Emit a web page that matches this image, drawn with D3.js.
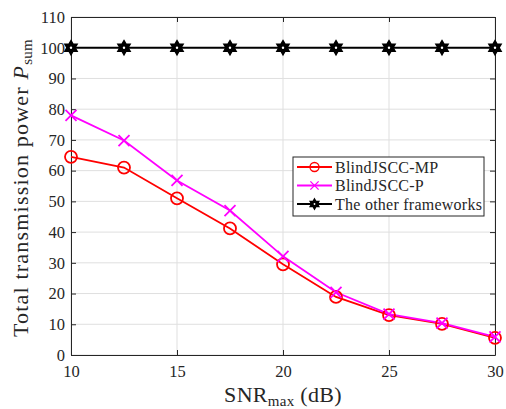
<!DOCTYPE html>
<html>
<head>
<meta charset="utf-8">
<script src="https://cdn.jsdelivr.net/npm/d3@7"></script>
<style>
  html, body { margin: 0; padding: 0; background: #fff; }
  svg { display: block; }
  text { font-family: "Liberation Serif", "DejaVu Serif", serif; fill: #262626; }
</style>
</head>
<body>
<svg id="chart" width="506" height="409"></svg>
<script>
// SNR values (dB) on the x axis
const snr = [10, 12.5, 15, 17.5, 20, 22.5, 25, 27.5, 30];
// Total transmission power for each framework
const blindMP = [64.5, 61.0, 51.0, 41.2, 29.5, 18.9, 13.0, 10.1, 5.6];
const blindP = [78.0, 69.8, 56.8, 47.0, 32.1, 20.4, 13.3, 10.4, 5.9];
const others = [100, 100, 100, 100, 100, 100, 100, 100, 100];
const seriesNames = ["BlindJSCC-MP", "BlindJSCC-P", "The other frameworks"];
const xTicks = [10, 15, 20, 25, 30];
const yTicks = [0, 10, 20, 30, 40, 50, 60, 70, 80, 90, 100, 110];

const svg = d3.select("#chart");
const m = { left: 71, right: 11, top: 17, bottom: 54 };
const W = 506, H = 409;
const x = d3.scaleLinear().domain([10, 30]).range([m.left, W - m.right]);
const y = d3.scaleLinear().domain([0, 110]).range([H - m.bottom, m.top]);
const axisColor = "#262626";

// grid
const grid = svg.append("g");
grid.selectAll(".gx").data(xTicks).join("line")
  .attr("x1", d => x(d)).attr("x2", d => x(d))
  .attr("y1", y(0)).attr("y2", y(110))
  .attr("stroke", "#dfdfdf").attr("stroke-width", 1);
grid.selectAll(".gy").data(yTicks).join("line")
  .attr("x1", x(10)).attr("x2", x(30))
  .attr("y1", d => y(d)).attr("y2", d => y(d))
  .attr("stroke", "#dfdfdf").attr("stroke-width", 1);

// axes
const xAxis = d3.axisBottom(x).tickValues(xTicks).tickSizeInner(-5).tickSizeOuter(0).tickPadding(10);
const yAxis = d3.axisLeft(y).tickValues(yTicks).tickSizeInner(-5).tickSizeOuter(0).tickPadding(6);
const gx = svg.append("g").attr("transform", `translate(0,${y(0)})`).call(xAxis);
const gy = svg.append("g").attr("transform", `translate(${x(10)},0)`).call(yAxis);
// mirrored ticks on top and right
const gxt = svg.append("g").attr("transform", `translate(0,${y(110)})`)
  .call(d3.axisTop(x).tickValues(xTicks).tickSizeInner(-5).tickSizeOuter(0).tickFormat(""));
const gyr = svg.append("g").attr("transform", `translate(${x(30)},0)`)
  .call(d3.axisRight(y).tickValues(yTicks).tickSizeInner(-5).tickSizeOuter(0).tickFormat(""));
[gx, gy, gxt, gyr].forEach(g => {
  g.select(".domain").attr("stroke", axisColor).attr("stroke-width", 1);
  g.selectAll(".tick line").attr("stroke", axisColor);
  g.selectAll(".tick text").style("font-family", '"Liberation Serif", serif')
    .style("font-size", "16.5px").attr("fill", axisColor);
});

// series
const line = d3.line().x((d, i) => x(snr[i])).y(d => y(d));
const series = [
  { name: seriesNames[0], values: blindMP, color: "#ff0000", marker: "circle" },
  { name: seriesNames[1], values: blindP, color: "#ff00ff", marker: "cross" },
  { name: seriesNames[2], values: others, color: "#000000", marker: "hexagram" }
];

function hexagramPath(r) {
  const pts = [];
  for (let k = 0; k < 12; k++) {
    const a = -Math.PI / 2 + k * Math.PI / 6;
    const rr = k % 2 === 0 ? r : r * 0.577;
    pts.push([rr * Math.cos(a), rr * Math.sin(a)]);
  }
  return "M" + pts.map(p => p.join(",")).join("L") + "Z";
}

function drawMarker(g, type, color) {
  if (type === "circle") {
    g.append("circle").attr("r", 6).attr("fill", "none").attr("stroke", color).attr("stroke-width", 1.8);
  } else if (type === "cross") {
    g.append("path").attr("d", "M-5.5,-5.5L5.5,5.5M-5.5,5.5L5.5,-5.5")
      .attr("stroke", color).attr("stroke-width", 1.8).attr("fill", "none");
  } else {
    g.append("path").attr("d", hexagramPath(7)).attr("fill", "#000").attr("stroke", color).attr("stroke-width", 1.5);
    g.append("circle").attr("r", 1.2).attr("fill", "#fff");
  }
}

series.forEach(s => {
  svg.append("path").datum(s.values).attr("d", line)
    .attr("fill", "none").attr("stroke", s.color).attr("stroke-width", 1.8);
});
series.forEach(s => {
  s.values.forEach((v, i) => {
    const g = svg.append("g").attr("transform", `translate(${x(snr[i])},${y(v)})`);
    drawMarker(g, s.marker, s.color);
  });
});

// legend
const lg = svg.append("g").attr("transform", "translate(293,157)");
lg.append("rect").attr("width", 191).attr("height", 59)
  .attr("fill", "#fff").attr("stroke", axisColor).attr("stroke-width", 1);
series.forEach((s, i) => {
  const ry = 10 + i * 18.5;
  lg.append("line").attr("x1", 4).attr("x2", 39).attr("y1", ry).attr("y2", ry)
    .attr("stroke", s.color).attr("stroke-width", 1.8);
  const mg = lg.append("g").attr("transform", `translate(21.5,${ry}) scale(0.75)`);
  drawMarker(mg, s.marker, s.color);
  lg.append("text").attr("x", 42).attr("y", ry + 5.5)
    .style("font-size", "16px").style("letter-spacing", "0.25px")
    .attr("fill", "#000").text(s.name);
});

// axis titles
const xl = svg.append("text").attr("x", x(20)).attr("y", 402).attr("text-anchor", "middle")
  .style("font-size", "22px").style("letter-spacing", "0.3px");
xl.append("tspan").text("SNR");
xl.append("tspan").attr("dy", 4).style("font-size", "15px").text("max");
xl.append("tspan").attr("dy", -4).text(" (dB)");

const yl = svg.append("text")
  .attr("transform", `translate(28,${(y(0) + y(110)) / 2 + 2}) rotate(-90)`)
  .attr("text-anchor", "middle").style("font-size", "22px").style("letter-spacing", "1.2px");
yl.append("tspan").text("Total transmission power ");
yl.append("tspan").style("font-style", "italic").text("P");
yl.append("tspan").attr("dy", 4).style("font-size", "15px").style("letter-spacing", "0.3px").text("sum");
</script>
</body>
</html>
